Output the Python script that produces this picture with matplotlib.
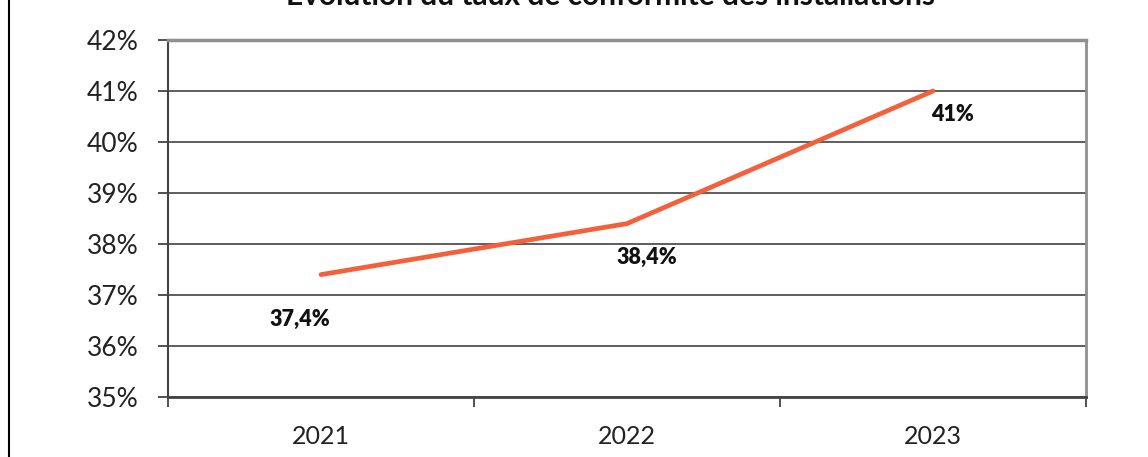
import matplotlib.pyplot as plt
from matplotlib.lines import Line2D
from matplotlib.ticker import FixedLocator

plt.rcParams['font.family'] = ['Lato', 'DejaVu Sans']

# taux de conformité par année
years = ['2021', '2022', '2023']
taux = [37.4, 38.4, 41.0]
labels = ['37,4%', '38,4%', '41%']
y_ticks = [35, 36, 37, 38, 39, 40, 41, 42]

fig = plt.figure(figsize=(11.48, 4.57), dpi=100)
ax = fig.add_axes([168 / 1148, 1 - 397 / 457, (1086 - 168) / 1148, (397 - 40) / 457])

x = list(range(len(years)))
ax.plot(x, taux, color='#f4603c', lw=3.4, solid_capstyle='round', zorder=3)

# étiquettes de valeurs (décalage en points)
offsets = [(-15, -32), (14, -24), (14, -17)]
for xi, v, lab, off in zip(x, taux, labels, offsets):
    ax.annotate(lab, (xi, v), xytext=off, textcoords='offset points',
                ha='center', va='center', fontsize=15.5, fontweight='heavy', color='#111111')

ax.set_xlim(-0.5, len(years) - 0.5)
ax.set_ylim(35, 42)
ax.set_yticks(y_ticks)
ax.set_yticklabels([f'{t}%' for t in y_ticks], fontsize=19, color='#222222')
ax.yaxis.grid(True, color='#505050', lw=1.3)
ax.set_axisbelow(True)

ax.set_xticks(x)
ax.set_xticklabels(years, fontsize=18, color='#222222')
ax.xaxis.set_minor_locator(FixedLocator([i - 0.5 for i in range(len(years) + 1)]))
ax.tick_params(axis='x', which='major', length=0, pad=20)
ax.tick_params(axis='x', which='minor', length=7, width=1.2, color='#333333', direction='out')
ax.tick_params(axis='y', length=7, width=1.2, color='#333333', direction='out', pad=14)

ax.spines['left'].set_color('#444444')
ax.spines['left'].set_linewidth(1.5)
ax.spines['bottom'].set_color('#444444')
ax.spines['bottom'].set_linewidth(2.0)
ax.spines['top'].set_color('#8f8f8f')
ax.spines['top'].set_linewidth(2.5)
ax.spines['right'].set_color('#8f8f8f')
ax.spines['right'].set_linewidth(2.0)

fig.text(610 / 1148, 1 - 5 / 457, 'Évolution du taux de conformité des installations',
         ha='center', va='baseline', fontsize=21.5, fontweight='bold', color='#111111')

# filet vertical à gauche du cadre
fig.add_artist(Line2D([8.5 / 1148, 8.5 / 1148], [0, 1], color='black', lw=1.5))

fig.savefig('out.png', dpi=100)
